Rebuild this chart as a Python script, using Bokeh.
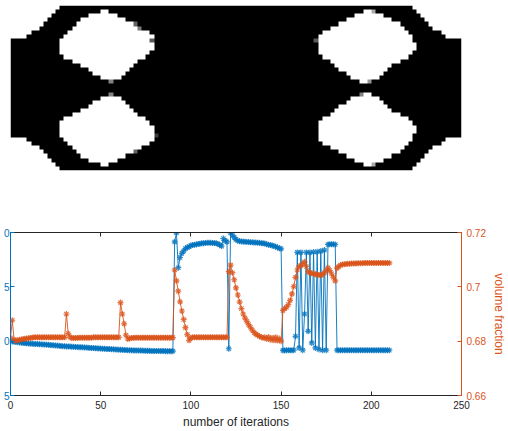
import numpy as np
from bokeh.plotting import figure
from bokeh.layouts import column
from bokeh.models import Range1d, LinearAxis, FixedTicker, LinearColorMapper
from bokeh.palettes import Greys256
from bokeh.embed import file_html
from bokeh.resources import INLINE

# ---- density map (110 x 40 elements); rows 0-19, mirrored below
black_start = [12, 11, 10, 9, 8, 7, 5, 4] + [0] * 12
black_end = [98, 99, 100, 101, 102, 103, 105, 106] + [110] * 12
hole_a_start = [None, 22, 19, 17, 16, 15, 14, 13, 12, 12, 12, 12, 13, 15, 17, 19, 20, 22, None, None]
hole_a_end = [None, 24, 26, 28, 30, 32, 34, 35, 35, 35, 35, 34, 33, 31, 30, 29, 28, 27, None, None]
hole_b_start = [None, 86, 84, 82, 80, 78, 76, 75, 75, 75, 75, 75, 76, 78, 79, 80, 82, 83, 85, None]
hole_b_end = [None, 89, 91, 93, 95, 96, 97, 98, 98, 99, 99, 98, 97, 95, 93, 92, 91, 90, 88, None]
gray_rows = [18, 21, 8, 31, 1, 38, 4, 35, 8, 18, 21, 5]
gray_cols = [24, 24, 34, 35, 88, 88, 30, 30, 74, 87, 85, 31]
gray_vals = [130, 130, 90, 60, 170, 170, 100, 100, 90, 150, 130, 120]

# ---- history series
iterations = list(range(211))
compliance = [
    20.00, 19.98, 19.95, 19.93, 19.90, 19.88, 19.86, 19.84, 19.82, 19.80,
    19.78, 19.77, 19.76, 19.75, 19.74, 19.73, 19.72, 19.71, 19.70, 19.69,
    19.68, 19.66, 19.65, 19.63, 19.62, 19.60, 19.59, 19.57, 19.56, 19.54,
    19.53, 19.52, 19.51, 19.50, 19.49, 19.48, 19.47, 19.46, 19.45, 19.44,
    19.43, 19.42, 19.41, 19.40, 19.38, 19.37, 19.36, 19.35, 19.34, 19.33,
    19.32, 19.31, 19.30, 19.29, 19.28, 19.27, 19.26, 19.25, 19.24, 19.23,
    19.22, 19.21, 19.20, 19.19, 19.18, 19.17, 19.16, 19.16, 19.15, 19.15,
    19.14, 19.14, 19.13, 19.13, 19.12, 19.12, 19.11, 19.11, 19.10, 19.10,
    19.10, 19.10, 19.09, 19.09, 19.09, 19.09, 19.08, 19.08, 19.08, 19.08,
    19.08, 29.14, 29.97, 26.76, 27.70, 28.08, 28.30, 28.53, 28.63, 28.70,
    28.80, 28.85, 28.88, 28.90, 28.95, 28.97, 29.00, 29.02, 29.03, 29.05,
    29.05, 29.05, 29.03, 29.03, 29.00, 28.95, 28.85, 28.75, 29.45, 29.25,
    29.14, 19.30, 29.97, 29.75, 29.55, 29.35, 29.25, 29.20, 29.18, 29.16,
    29.15, 29.12, 29.12, 29.10, 29.10, 29.08, 29.07, 29.05, 29.05, 29.02,
    29.00, 28.98, 28.92, 28.88, 28.85, 28.80, 28.75, 28.70, 28.62, 28.55,
    28.50, 19.15, 19.15, 19.16, 19.17, 19.17, 19.17, 19.17, 20.45, 28.17,
    19.38, 28.17, 19.17, 22.50, 28.17, 20.91, 28.17, 19.84, 28.20, 19.38,
    28.23, 19.23, 28.29, 19.17, 28.38, 19.17, 28.90, 28.92, 28.92, 28.92,
    28.90, 19.17, 19.17, 19.17, 19.17, 19.17, 19.17, 19.17, 19.17, 19.17,
    19.17, 19.17, 19.17, 19.17, 19.17, 19.17, 19.17, 19.17, 19.17, 19.17,
    19.17, 19.17, 19.17, 19.17, 19.17, 19.17, 19.17, 19.17, 19.17, 19.17,
    19.17,
]
volume = [
    0.6812, 0.6877, 0.6805, 0.6802, 0.6803, 0.6805, 0.6806, 0.6808, 0.6809, 0.6810,
    0.6811, 0.6812, 0.6813, 0.6814, 0.6814, 0.6814, 0.6814, 0.6814, 0.6814, 0.6814,
    0.6814, 0.6814, 0.6814, 0.6814, 0.6814, 0.6814, 0.6814, 0.6814, 0.6814, 0.6814,
    0.6814, 0.6900, 0.6828, 0.6815, 0.6811, 0.6812, 0.6812, 0.6812, 0.6813, 0.6813,
    0.6813, 0.6813, 0.6813, 0.6813, 0.6813, 0.6813, 0.6814, 0.6814, 0.6814, 0.6814,
    0.6814, 0.6814, 0.6814, 0.6814, 0.6814, 0.6814, 0.6814, 0.6814, 0.6814, 0.6814,
    0.6814, 0.6942, 0.6900, 0.6864, 0.6822, 0.6808, 0.6810, 0.6812, 0.6812, 0.6813,
    0.6813, 0.6813, 0.6813, 0.6813, 0.6813, 0.6813, 0.6813, 0.6813, 0.6813, 0.6813,
    0.6813, 0.6813, 0.6813, 0.6813, 0.6813, 0.6813, 0.6813, 0.6813, 0.6813, 0.6813,
    0.6813, 0.7062, 0.7022, 0.6984, 0.6945, 0.6911, 0.6880, 0.6850, 0.6824, 0.6803,
    0.6812, 0.6814, 0.6814, 0.6814, 0.6814, 0.6814, 0.6814, 0.6814, 0.6814, 0.6814,
    0.6814, 0.6814, 0.6814, 0.6814, 0.6814, 0.6814, 0.6814, 0.6814, 0.6814, 0.6814,
    0.6814, 0.7056, 0.7080, 0.7052, 0.7026, 0.6996, 0.6970, 0.6944, 0.6920, 0.6900,
    0.6885, 0.6873, 0.6861, 0.6851, 0.6841, 0.6832, 0.6826, 0.6822, 0.6818, 0.6815,
    0.6812, 0.6814, 0.6808, 0.6815, 0.6805, 0.6812, 0.6803, 0.6814, 0.6802, 0.6810,
    0.6800, 0.6913, 0.6920, 0.6925, 0.6935, 0.6950, 0.6974, 0.7001, 0.7035, 0.7062,
    0.7075, 0.7078, 0.7085, 0.7092, 0.7075, 0.7056, 0.7052, 0.7050, 0.7048, 0.7046,
    0.7045, 0.7044, 0.7043, 0.7045, 0.7052, 0.7060, 0.7070, 0.7060, 0.7048, 0.7035,
    0.7022, 0.7069, 0.7075, 0.7080, 0.7082, 0.7083, 0.7084, 0.7085, 0.7085, 0.7086,
    0.7086, 0.7086, 0.7087, 0.7087, 0.7087, 0.7087, 0.7088, 0.7088, 0.7088, 0.7088,
    0.7088, 0.7088, 0.7088, 0.7088, 0.7088, 0.7088, 0.7088, 0.7088, 0.7088, 0.7088,
    0.7088,
]
x_ticks = [0, 50, 100, 150, 200, 250]
left_ticks = [15, 20, 25, 30]
left_labels = ["5", "0", "5", "0"]
right_ticks = [0.66, 0.68, 0.70, 0.72]
right_labels = ["0.66", "0.68", "0.7", "0.72"]

assert len(compliance) == 211 and len(volume) == 211

BLUE = "#0072BD"
ORANGE = "#D95319"
DARK = "#262626"
FONT = "Liberation Sans"

# build density image
density = np.full((40, 110), 255, dtype=np.uint8)
for r in range(20):
    for row in (r, 39 - r):
        density[row, black_start[r]:black_end[r]] = 0
        if hole_a_start[r] is not None:
            density[row, hole_a_start[r]:hole_a_end[r]] = 255
        if hole_b_start[r] is not None:
            density[row, hole_b_start[r]:hole_b_end[r]] = 255
for r, c, g in zip(gray_rows, gray_cols, gray_vals):
    density[r, c] = g

top = figure(width=508, height=200, x_range=Range1d(0, 110), y_range=Range1d(0, 40),
             output_backend="svg", toolbar_location=None,
             min_border_left=10, min_border_right=45, min_border_top=5, min_border_bottom=30)
top.axis.visible = False
top.grid.visible = False
top.outline_line_color = None
top.image(image=[density[::-1]], x=0, y=0, dw=110, dh=40,
          color_mapper=LinearColorMapper(palette=Greys256, low=0, high=255))

p = figure(width=508, height=231, x_range=Range1d(0, 250), y_range=Range1d(15, 30),
           extra_y_ranges={"vf": Range1d(0.66, 0.72)},
           output_backend="svg", toolbar_location=None,
           min_border_left=10, min_border_right=45, min_border_top=32, min_border_bottom=35,
           x_axis_label="number of iterations")
p.grid.visible = False
p.outline_line_color = None

bx = p.xaxis[0]
bx.ticker = FixedTicker(ticks=x_ticks)
bx.axis_line_color = DARK
bx.major_tick_line_color = DARK
bx.major_tick_in = 4
bx.major_tick_out = 0
bx.minor_tick_line_color = None
bx.major_label_text_color = DARK
bx.major_label_text_font = FONT
bx.major_label_text_font_size = "10px"
bx.major_label_standoff = 5
bx.axis_label_text_color = DARK
bx.axis_label_text_font = FONT
bx.axis_label_text_font_size = "12px"
bx.axis_label_text_font_style = "normal"
bx.axis_label_standoff = 3

tx = LinearAxis(ticker=FixedTicker(ticks=x_ticks),
                major_label_overrides={t: "" for t in x_ticks},
                major_tick_in=4, major_tick_out=0, minor_tick_line_color=None,
                axis_line_color=DARK, major_tick_line_color=DARK, major_label_standoff=0)
p.add_layout(tx, "above")

ly = p.yaxis[0]
ly.ticker = FixedTicker(ticks=left_ticks)
ly.major_label_overrides = dict(zip(left_ticks, left_labels))
ly.axis_line_color = BLUE
ly.major_tick_line_color = BLUE
ly.major_tick_in = 4
ly.major_tick_out = 0
ly.minor_tick_line_color = None
ly.major_label_text_color = BLUE
ly.major_label_text_font = FONT
ly.major_label_text_font_size = "10px"
ly.major_label_standoff = 1
ly.major_label_orientation = "horizontal"

ry = LinearAxis(y_range_name="vf", ticker=FixedTicker(ticks=right_ticks),
                major_label_overrides=dict(zip(right_ticks, right_labels)),
                axis_line_color=ORANGE, major_tick_line_color=ORANGE,
                major_tick_in=4, major_tick_out=0, minor_tick_line_color=None,
                major_label_text_color=ORANGE, major_label_text_font=FONT,
                major_label_text_font_size="10px", major_label_standoff=5,
                axis_label="volume fraction", axis_label_text_color=ORANGE,
                axis_label_text_font=FONT, axis_label_text_font_size="12px",
                axis_label_text_font_style="normal", axis_label_standoff=3,
                axis_label_orientation="vertical")
p.add_layout(ry, "right")

p.line(iterations, compliance, line_color=BLUE, line_width=1, line_alpha=0.9)
p.scatter(iterations, compliance, marker="asterisk", size=6, line_color=BLUE, line_width=1.2, line_alpha=0.8)
p.line(iterations, volume, y_range_name="vf", line_color=ORANGE, line_width=1, line_alpha=0.9)
p.scatter(iterations, volume, y_range_name="vf", marker="asterisk", size=6, line_color=ORANGE, line_width=1.2, line_alpha=0.8)

layout = column(top, p, spacing=0)
open("out.html", "w").write(file_html(layout, INLINE))
